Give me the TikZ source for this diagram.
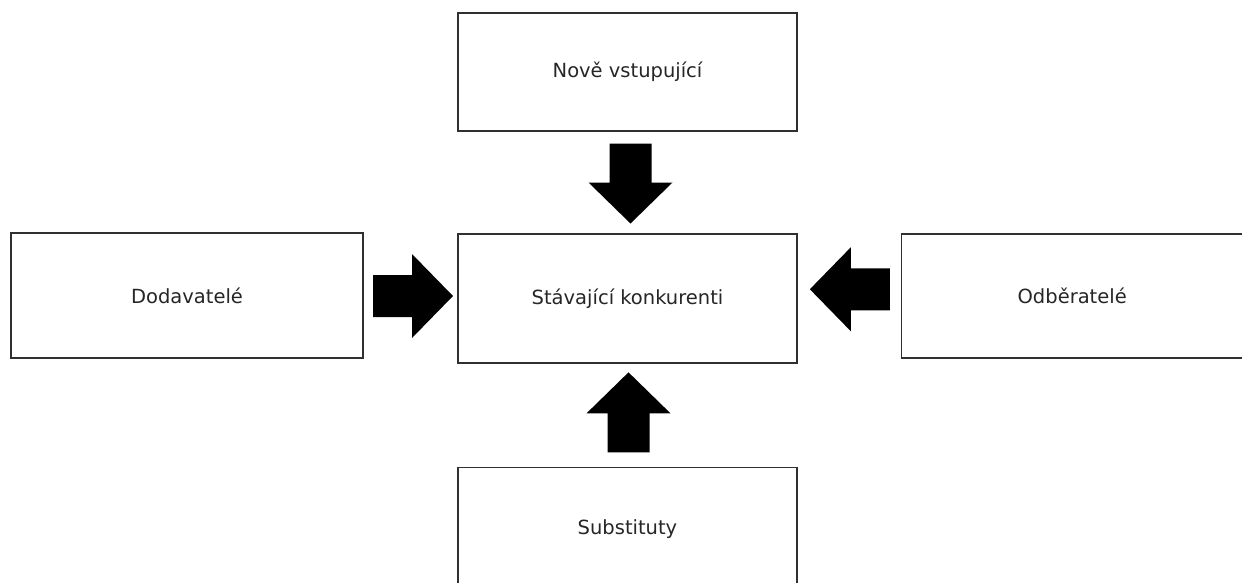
\documentclass[tikz,border=0pt]{standalone}
\usepackage{fontspec}
\setmainfont{DejaVu Sans}
\usetikzlibrary{calc}
\definecolor{txt}{HTML}{262626}
\definecolor{edge}{HTML}{303030}
\tikzset{
  box/.style={draw=edge, line width=1.4pt, fill=white, inner sep=0pt, text=txt,
    font=\fontsize{19.5}{23}\selectfont},
  barrow/.pic={\fill[black] (-39,-21) -- (0,-21) -- (0,-42) -- (41,0) -- (0,42) -- (0,21) -- (-39,21) -- cycle;},
}
\begin{document}
\begin{tikzpicture}[x=1pt,y=-1pt]
\useasboundingbox (0,0) rectangle (1242,582);
\clip (0,0) rectangle (1242,582);
\fill[white] (0,0) rectangle (1242,582);
\node[box, minimum width=339pt, minimum height=118pt] (top) at (627.5,72) {Nově vstupující};
\node[box, minimum width=339pt, minimum height=129pt] (center) at (627.5,298.5) {Stávající konkurenti};
\node[box, minimum width=352pt, minimum height=125pt] (left) at (187,295.5) {Dodavatelé};
\node[box, minimum width=345pt, minimum height=124pt, anchor=west] (right) at (901,296) {\hspace*{-4pt}Odběratelé};
\node[box, minimum width=339pt, minimum height=122pt, anchor=north] (bottom) at (627.5,467) {Substituty};
\coordinate (a1) at ($(top.south)!0.5!(center.north)+(3,0)$);
\coordinate (a2) at ($(bottom.north)!0.5!(center.south)+(1,-2)$);
\coordinate (a3) at ($(left.east)!0.5!(center.west)+(1.5,-1)$);
\coordinate (a4) at ($(right.west)!0.5!(center.east)+(1.5,-8)$);
\pic[rotate=-90] at (a1) {barrow};
\pic[rotate=90] at (a2) {barrow};
\pic[rotate=0] at (a3) {barrow};
\pic[rotate=180] at (a4) {barrow};
\end{tikzpicture}
\end{document}
